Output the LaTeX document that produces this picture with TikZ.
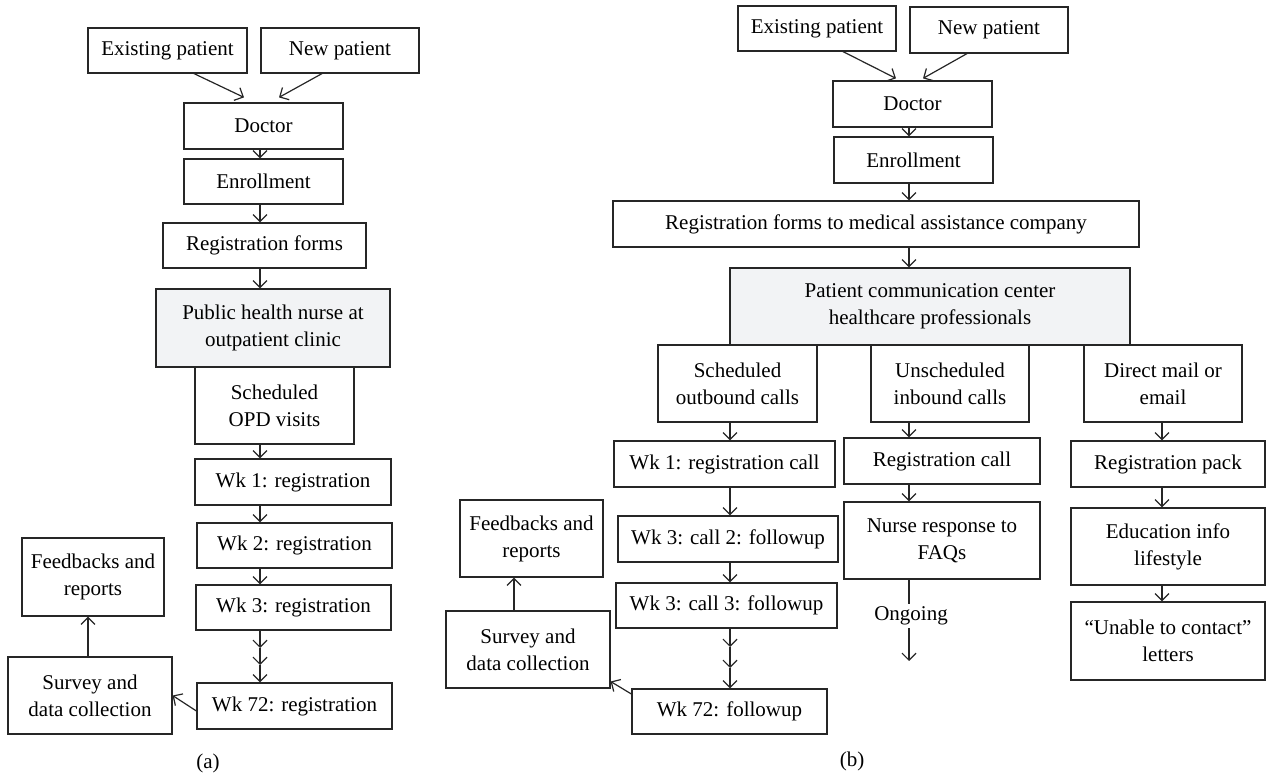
\documentclass[tikz,border=0pt]{standalone}
\usepackage{fontspec}
\setmainfont{Liberation Serif}
\usetikzlibrary{arrows.meta}
\definecolor{boxfill}{RGB}{242,243,245}
\newcommand\bxn[7][]{\node[box,#1,minimum width={(#4-#2)*0.5pt},minimum height={(#5-#3)*0.5pt}] (#6) at ({(#2+#4)/2},{(#3+#5)/2}) {#7};}
\tikzset{
  box/.style={draw=black!85, line width=0.6pt, inner sep=0pt, align=center, font=\fontsize{10.5}{13.5}\selectfont},
  shaded/.style={fill=boxfill},
  arr/.style={draw=black!85, line width=0.6pt, -{Straight Barb[length=3.5pt,width=7pt]}},
  ln/.style={draw=black!85, line width=0.6pt},
  lbl/.style={font=\fontsize{10.5}{13.5}\selectfont, inner sep=0pt}
}
\begin{document}
\begin{tikzpicture}[x=0.5pt,y=-0.5pt]
\useasboundingbox (0,0) rectangle (1266,775);
% column coordinates
\coordinate (colA) at (260,0);
\coordinate (colFA) at (88,0);
\coordinate (colS) at (730,0);
\coordinate (colU) at (909,0);
\coordinate (colD) at (1162,0);
\coordinate (colFB) at (514,0);
% ---------------- panel (a)
\bxn{88}{28}{247}{73}{epA}{Existing patient}
\bxn{261}{28}{419}{73}{npA}{New patient}
\bxn{184}{103}{343}{149}{docA}{Doctor}
\bxn{184}{159}{343}{204}{enrA}{Enrollment}
\bxn{163}{223}{366}{268}{rfA}{Registration forms}
\bxn[shaded]{156}{289}{390}{367}{phnA}{Public health nurse at\\outpatient clinic}
\bxn{195}{367}{354}{444}{opdA}{Scheduled\\OPD visits}
\bxn{195}{459}{391}{505}{w1A}{Wk 1: registration}
\bxn{197}{523}{392}{568}{w2A}{Wk 2: registration}
\bxn{196}{585}{391}{630}{w3A}{Wk 3: registration}
\bxn{197}{683}{392}{729}{w72A}{Wk 72: registration}
\bxn{8}{657}{172}{734}{svA}{Survey and\\data collection}
\bxn{22}{538}{164}{616}{fbA}{Feedbacks and\\reports}
\node[lbl] (labA) at (208,763) {(a)};
\draw[arr] ([xshift=13.25pt]epA.south) -- ([xshift=-9.75pt,yshift=2.5pt]docA.north);
\draw[arr] ([xshift=-9pt]npA.south) -- ([xshift=7.75pt,yshift=2.5pt]docA.north);
\draw[arr] (docA.south -| colA) -- (enrA.north -| colA);
\draw[arr] (enrA.south -| colA) -- (rfA.north -| colA);
\draw[arr] (rfA.south -| colA) -- (phnA.north -| colA);
\draw[arr] (opdA.south -| colA) -- (w1A.north -| colA);
\draw[arr] (w1A.south -| colA) -- (w2A.north -| colA);
\draw[arr] (w2A.south -| colA) -- (w3A.north -| colA);
\coordinate (tA1) at (260,648);
\coordinate (tA2) at (260,665);
\draw[arr] (w3A.south -| colA) -- (tA1);
\draw[arr] (tA1) -- (tA2);
\draw[arr] (tA2) -- (w72A.north -| colA);
\draw[arr] ([yshift=-2.5pt]w72A.west) -- (svA.east);
\draw[arr] (svA.north -| colFA) -- (fbA.south -| colFA);
% ---------------- panel (b)
\bxn{738}{6}{896}{51}{epB}{Existing patient}
\bxn{910}{7}{1068}{53}{npB}{New patient}
\bxn{833}{81}{992}{127}{docB}{Doctor}
\bxn{834}{137}{993}{183}{enrB}{Enrollment}
\bxn{613}{201}{1139}{247}{rfB}{Registration forms to medical assistance company}
\bxn[shaded]{730}{268}{1130}{345}{pccB}{Patient communication center\\healthcare professionals}
\bxn{658}{345}{817}{422}{socB}{Scheduled\\outbound calls}
\bxn{871}{345}{1029}{422}{uicB}{Unscheduled\\inbound calls}
\bxn{1084}{345}{1242}{422}{dmB}{Direct mail or\\email}
\bxn{614}{441}{835}{487}{w1B}{Wk 1: registration call}
\bxn{618}{516}{838}{562}{c2B}{Wk 3: call 2: followup}
\bxn{616}{583}{837}{628}{c3B}{Wk 3: call 3: followup}
\bxn{632}{689}{827}{734}{w72B}{Wk 72: followup}
\bxn{446}{611}{610}{688}{svB}{Survey and\\data collection}
\bxn{460}{500}{603}{577}{fbB}{Feedbacks and\\reports}
\bxn{844}{438}{1040}{484}{rcB}{Registration call}
\bxn{844}{502}{1040}{579}{nrB}{Nurse response to\\FAQs}
\bxn{1071}{441}{1265}{487}{rpB}{Registration pack}
\bxn{1071}{508}{1265}{585}{eiB}{Education info\\lifestyle}
\bxn{1071}{602}{1265}{680}{ucB}{``Unable to contact''\\letters}
\node[lbl, minimum height=12pt] (ongB) at (911,616) {Ongoing};
\node[lbl] (labB) at (852,761) {(b)};
\coordinate (endB) at (909,661);
\draw[arr] ([xshift=13pt]epB.south) -- ([xshift=-8.25pt,yshift=1pt]docB.north);
\draw[arr] ([xshift=-11pt]npB.south) -- ([xshift=5.25pt,yshift=1pt]docB.north);
\draw[arr] (docB.south -| colU) -- (enrB.north -| colU);
\draw[arr] (enrB.south -| colU) -- (rfB.north -| colU);
\draw[arr] (rfB.south -| colU) -- (pccB.north -| colU);
\draw[arr] (socB.south -| colS) -- (w1B.north -| colS);
\draw[arr] (w1B.south -| colS) -- (c2B.north -| colS);
\draw[arr] (c2B.south -| colS) -- (c3B.north -| colS);
\coordinate (tB1) at (730,647);
\coordinate (tB2) at (730,668);
\draw[arr] (c3B.south -| colS) -- (tB1);
\draw[arr] (tB1) -- (tB2);
\draw[arr] (tB2) -- (w72B.north -| colS);
\draw[arr] ([yshift=8.75pt]w72B.west) -- ([yshift=-16pt]svB.east);
\draw[arr] (svB.north -| colFB) -- (fbB.south -| colFB);
\draw[arr] (uicB.south -| colU) -- (rcB.north -| colU);
\draw[arr] (rcB.south -| colU) -- (nrB.north -| colU);
\draw[ln] (nrB.south -| colU) -- (ongB.north -| colU);
\draw[arr] (ongB.south -| colU) -- (endB);
\draw[arr] (dmB.south -| colD) -- (rpB.north -| colD);
\draw[arr] (rpB.south -| colD) -- (eiB.north -| colD);
\draw[arr] (eiB.south -| colD) -- (ucB.north -| colD);
\end{tikzpicture}
\end{document}
